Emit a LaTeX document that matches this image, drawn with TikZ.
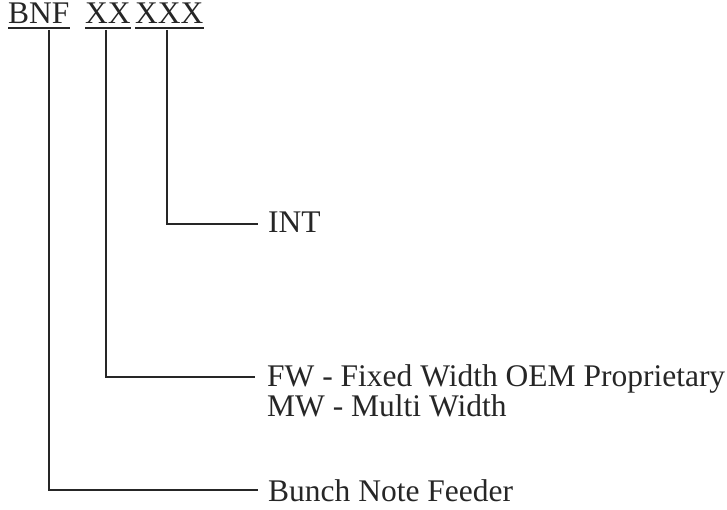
\documentclass[tikz,border=0pt]{standalone}
\usepackage{fontspec}
\setmainfont{Liberation Serif}
\begin{document}
\begin{tikzpicture}[x=1pt,y=1pt,
  lbl/.style={anchor=base west,inner sep=0pt,font=\fontsize{31.5}{36}\selectfont,text=black!85},
  hdr/.style={anchor=base west,inner sep=0pt,font=\fontsize{31.5}{36}\selectfont,text=black!85},
  conn/.style={line width=2pt,draw=black!85},
  uline/.style={line width=1.3pt,draw=black!85}]
\useasboundingbox (0,0) rectangle (727,510);
% header
\node[hdr] (bnf) at (8,486) {BNF};
\node[hdr] (xx) at (85,486) {XX};
\node[hdr] (xxx) at (135,486) {XXX};
\foreach \n in {bnf,xx,xxx}{
  \draw[uline] ([yshift=-4pt]\n.base west) -- ([yshift=-4pt]\n.base east);
}
% labels
\node[lbl] (int) at (268,277) {INT};
\node[lbl] (fw) at (267,123) {FW - Fixed Width OEM Proprietary};
\node[lbl] (mw) at (267,93.5) {MW - Multi Width};
\node[lbl] (bunch) at (268,8) {Bunch Note Feeder};
% connector tops
\coordinate (t1) at (49,480);
\coordinate (t2) at (106,480);
\coordinate (t3) at (167,480);
\coordinate (e1) at (258,20);
\coordinate (e2) at (255,133);
\coordinate (e3) at (258,286);
\draw[conn] (t3) |- (e3);
\draw[conn] (t2) |- (e2);
\draw[conn] (t1) |- (e1);
\end{tikzpicture}
\end{document}
